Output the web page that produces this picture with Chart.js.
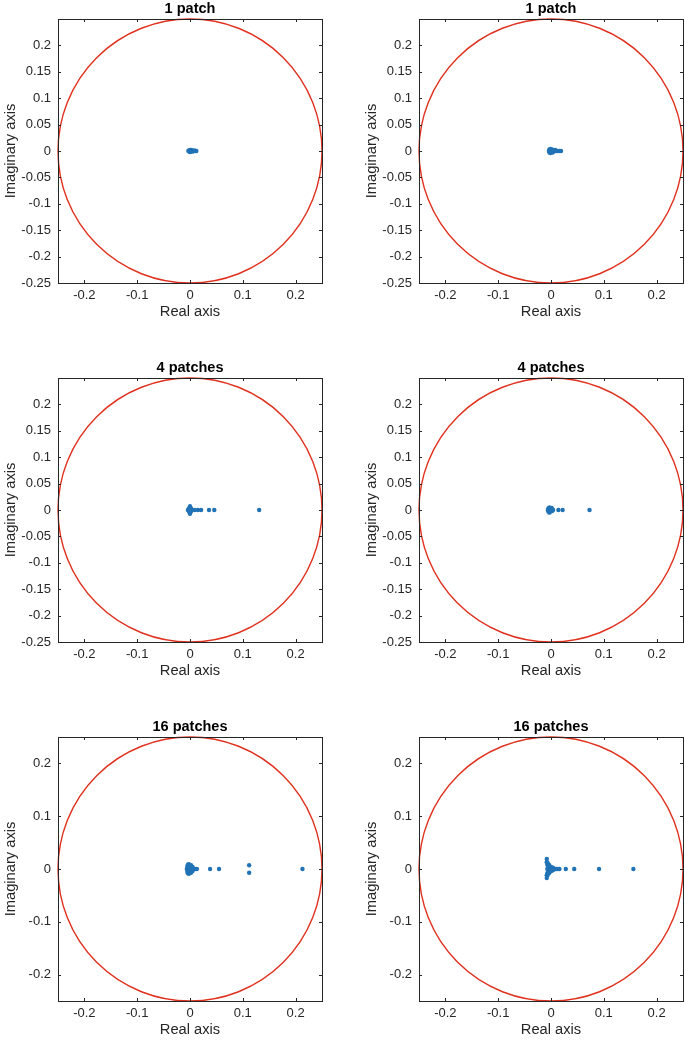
<!DOCTYPE html>
<html>
<head>
<meta charset="utf-8">
<script src="https://cdn.jsdelivr.net/npm/chart.js@4"></script>
<style>
  html, body { margin: 0; padding: 0; background: #fff; overflow: hidden; }
  body { width: 685px; height: 1041px; position: relative; }
  canvas { position: absolute; }
</style>
</head>
<body>
<canvas id="c0" width="326" height="330" style="left:0px;top:0px"></canvas>
<canvas id="c1" width="326" height="330" style="left:361px;top:0px"></canvas>
<canvas id="c2" width="326" height="330" style="left:0px;top:359px"></canvas>
<canvas id="c3" width="326" height="330" style="left:361px;top:359px"></canvas>
<canvas id="c4" width="326" height="330" style="left:0px;top:718px"></canvas>
<canvas id="c5" width="326" height="330" style="left:361px;top:718px"></canvas>
<script>
// titulos e ticks
const titles = ['1 patch', '1 patch', '4 patches', '4 patches', '16 patches', '16 patches'];
const xTicks = [-0.2, -0.1, 0, 0.1, 0.2];
const yTicksFine = [-0.25, -0.2, -0.15, -0.1, -0.05, 0, 0.05, 0.1, 0.15, 0.2];
const yTicksCoarse = [-0.2, -0.1, 0, 0.1, 0.2];
const radius = 0.25; // raio do circulo vermelho

// autovalores (parte real / imaginaria)
const re1a = [-0.003, -0.002, -0.001, 0, 0, 0, 0.001, 0.002, 0.002, 0.003, 0.004, 0.005, 0.006, 0.008, 0.010, 0.012];
const im1a = [0, 0.001, -0.001, 0.002, -0.002, 0, 0.001, -0.001, 0.002, 0, 0.001, -0.001, 0, 0.001, 0, 0];

const re1b = [-0.004, -0.003, -0.003, -0.002, -0.001, -0.001, 0, 0, 0.001, 0.002, 0.003, 0.004, 0.005, 0.006, 0.008, 0.010, 0.013, 0.016, 0.019];
const im1b = [0, 0.003, -0.003, 0.001, 0.004, -0.004, 0.002, -0.002, 0, 0.003, -0.003, 0.001, -0.001, 0, 0.002, 0, 0, 0, 0];

const re4a = [-0.004, -0.002, -0.002, 0, 0, 0, 0, 0, 0.002, 0.002, 0.003, 0.009, 0.015, 0.021, 0.036, 0.046, 0.131];
const im4a = [0, 0.003, -0.003, 0.007, -0.007, 0.004, -0.004, 0, 0.003, -0.003, 0, 0, 0, 0, 0, 0, 0];

const re4b = [-0.006, -0.005, -0.005, -0.003, -0.003, -0.002, -0.001, -0.001, 0, 0.001, 0.002, 0.002, 0.004, 0.014, 0.022, 0.073];
const im4b = [0, 0.003, -0.003, 0.005, -0.005, 0, 0.003, -0.003, 0, 0.004, 0.002, -0.002, 0, 0, 0, 0];

const re16a = [-0.006, -0.005, -0.005, -0.004, -0.004, -0.002, -0.002, -0.002, 0, 0, 0, 0, 0.002, 0.002, 0.003, 0.005, 0.005, 0.007, 0.010, 0.013, 0.038, 0.055, 0.112, 0.112, 0.213];
const im16a = [0, 0.005, -0.005, 0.008, -0.008, 0.009, -0.009, 0, 0.006, -0.006, 0.003, -0.003, 0.007, -0.007, 0, 0.004, -0.004, 0, 0, 0, 0, 0, 0.007, -0.007, 0];

const re16b = [-0.008, -0.008, -0.008, -0.008, -0.007, -0.007, -0.007, -0.006, -0.006, -0.005, -0.005, -0.004, -0.004, -0.004, -0.002, -0.002, -0.002, 0, 0, 0, 0.002, 0.002, 0.004, 0.004, 0.006, 0.008, 0.010, 0.013, 0.016, 0.028, 0.044, 0.091, 0.156];
const im16b = [0.019, -0.017, 0.013, -0.012, 0.008, -0.008, 0, 0.011, -0.011, 0.004, -0.004, 0.008, -0.008, 0, 0.005, -0.005, 0, 0.004, -0.004, 0, 0.003, -0.003, 0.002, -0.002, 0, 0, 0, 0, 0, 0, 0, 0, 0];

const seriesRe = [re1a, re1b, re4a, re4b, re16a, re16b];
const seriesIm = [im1a, im1b, im4a, im4b, im16a, im16b];
const yTickSets = [yTicksFine, yTicksFine, yTicksFine, yTicksFine, yTicksCoarse, yTicksCoarse];

const azul = '#2272b6';
const vermelho = '#e0301e';
const eixo = '#262626';

// circulo + moldura com ticks para dentro (estilo MATLAB)
const moldura = {
  id: 'moldura',
  beforeDatasetsDraw(chart) {
    const { ctx, scales: { x, y } } = chart;
    const cx = x.getPixelForValue(0), cy = y.getPixelForValue(0);
    const r = x.getPixelForValue(radius) - cx;
    ctx.save();
    ctx.strokeStyle = vermelho;
    ctx.lineWidth = 1.4;
    ctx.beginPath();
    ctx.arc(cx, cy, r, 0, Math.PI * 2);
    ctx.stroke();
    ctx.restore();
  },
  afterDraw(chart) {
    const { ctx, chartArea: a, scales: { x, y } } = chart;
    ctx.save();
    ctx.strokeStyle = eixo;
    ctx.lineWidth = 1;
    ctx.strokeRect(Math.round(a.left) + 0.5, Math.round(a.top) + 0.5, Math.round(a.right - a.left), Math.round(a.bottom - a.top));
    ctx.beginPath();
    x.ticks.forEach(t => {
      const px = Math.round(x.getPixelForValue(t.value)) + 0.5;
      ctx.moveTo(px, a.bottom); ctx.lineTo(px, a.bottom - 3);
      ctx.moveTo(px, a.top); ctx.lineTo(px, a.top + 3);
    });
    y.ticks.forEach(t => {
      const py = Math.round(y.getPixelForValue(t.value)) + 0.5;
      ctx.moveTo(a.left, py); ctx.lineTo(a.left + 3, py);
      ctx.moveTo(a.right, py); ctx.lineTo(a.right - 3, py);
    });
    ctx.stroke();
    ctx.restore();
  }
};

Chart.defaults.font.family = '"Liberation Sans", Arial, sans-serif';
Chart.defaults.color = eixo;

function fmt(v) {
  return String(Math.round(v * 100) / 100);
}

for (let i = 0; i < 6; i++) {
  const pontos = seriesRe[i].map((v, k) => ({ x: v, y: seriesIm[i][k] }));
  const yt = yTickSets[i];
  new Chart(document.getElementById('c' + i), {
    type: 'scatter',
    data: {
      datasets: [{
        data: pontos,
        backgroundColor: azul,
        borderWidth: 0,
        pointRadius: 2.2
      }]
    },
    options: {
      responsive: false,
      animation: false,
      devicePixelRatio: 1,
      layout: { padding: { left: 2, top: 0, right: 4, bottom: 9 } },
      plugins: {
        legend: { display: false },
        tooltip: { enabled: false },
        title: {
          display: true,
          text: titles[i],
          fullSize: false,
          color: '#000',
          font: { size: 14.5, weight: 'bold' },
          padding: { top: 0, bottom: 1.6 }
        }
      },
      scales: {
        x: {
          type: 'linear',
          min: -radius, max: radius,
          grid: { display: false, drawTicks: false },
          border: { display: false },
          afterBuildTicks: s => { s.ticks = xTicks.map(v => ({ value: v })); },
          afterFit: s => { s.height = 38; },
          ticks: { autoSkip: false, maxRotation: 0, padding: 4.5, font: { size: 13 }, callback: v => fmt(v) },
          title: { display: true, text: 'Real axis', font: { size: 14.7 }, padding: 0 }
        },
        y: {
          type: 'linear',
          min: -radius, max: radius,
          grid: { display: false, drawTicks: false },
          border: { display: false },
          afterBuildTicks: s => { s.ticks = yt.map(v => ({ value: v })); },
          afterFit: s => { s.width = 56; },
          ticks: { autoSkip: false, padding: 7, font: { size: 13 }, callback: v => fmt(v) },
          title: { display: true, text: 'Imaginary axis', font: { size: 14.7 }, padding: 0 }
        }
      }
    },
    plugins: [moldura]
  });
}
</script>
</body>
</html>
